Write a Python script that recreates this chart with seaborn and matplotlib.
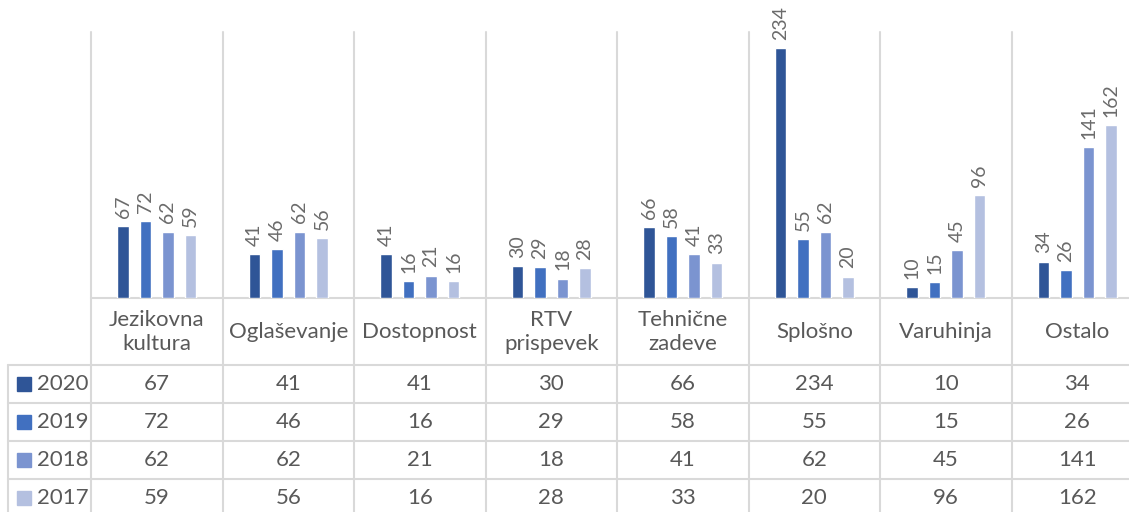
import matplotlib
matplotlib.use('Agg')
import matplotlib.pyplot as plt
from matplotlib.patches import Rectangle
import seaborn as sns
import pandas as pd

# podatki
kategorije = ['Jezikovna\nkultura', 'Oglaševanje', 'Dostopnost', 'RTV\nprispevek',
              'Tehnične\nzadeve', 'Splošno', 'Varuhinja', 'Ostalo']
leta = ['2020', '2019', '2018', '2017']
v2020 = [67, 41, 41, 30, 66, 234, 10, 34]
v2019 = [72, 46, 16, 29, 58, 55, 15, 26]
v2018 = [62, 62, 21, 18, 41, 62, 45, 141]
v2017 = [59, 56, 16, 28, 33, 20, 96, 162]
barve = ['#2F5597', '#4170C0', '#7B94D0', '#B4C0E0']

vrednosti = {'2020': v2020, '2019': v2019, '2018': v2018, '2017': v2017}
df = pd.DataFrame([(k, l, vrednosti[l][i]) for l in leta for i, k in enumerate(kategorije)],
                  columns=['kat', 'leto', 'val'])

sns.set_theme(style='white')
plt.rcParams['font.family'] = ['Lato', 'DejaVu Sans']
txt_col = '#595959'
grid_col = '#D9D9D9'

W, H = 1129, 512
fig = plt.figure(figsize=(W / 100, H / 100), dpi=100)
ax = fig.add_axes([91 / W, (H - 298) / H, (1143 - 91) / W, (298 - 32) / H])
sns.barplot(data=df, x='kat', y='val', hue='leto', hue_order=leta, order=kategorije,
            palette=dict(zip(leta, barve)), width=0.684, gap=0.47, saturation=1,
            legend=False, ax=ax)
for c in ax.containers:
    ax.bar_label(c, rotation=90, padding=6, color='#6b6b6b', fontsize=14)
ax.set_xlim(-0.5, len(kategorije) - 0.5)
ax.set_ylim(0, 249)
ax.axis('off')

# tabela pod grafom
ov = fig.add_axes([0, 0, 1, 1], zorder=-1)
ov.set_xlim(0, W)
ov.set_ylim(H, 0)
ov.axis('off')

fig.canvas.draw()
def px(xd):
    return ax.transData.transform((xd, 0))[0]

rob = [px(i - 0.5) for i in range(len(kategorije) + 1)]
for x in rob:
    ov.plot([x, x], [32, H], color=grid_col, lw=1.5)
vrstice = [365, 403, 441, 479, 517]
ov.plot([rob[0], rob[-1]], [298, 298], color=grid_col, lw=1.5)
for y in vrstice:
    ov.plot([8, rob[-1]], [y, y], color=grid_col, lw=1.5)
ov.plot([8, 8], [365, H], color=grid_col, lw=1.5)

for i, k in enumerate(kategorije):
    ov.text(px(i), 332, k, ha='center', va='center', fontsize=16, color=txt_col,
            linespacing=1.27)
for j, l in enumerate(leta):
    yc = (vrstice[j] + vrstice[j + 1]) / 2
    ov.add_patch(Rectangle((17, yc - 7), 14, 14, color=barve[j]))
    ov.text(37, yc, l, ha='left', va='center', fontsize=16, color=txt_col)
    for i in range(len(kategorije)):
        ov.text(px(i), yc, str(vrednosti[l][i]), ha='center', va='center',
                fontsize=16, color=txt_col)

fig.savefig('out.png', dpi=100)
